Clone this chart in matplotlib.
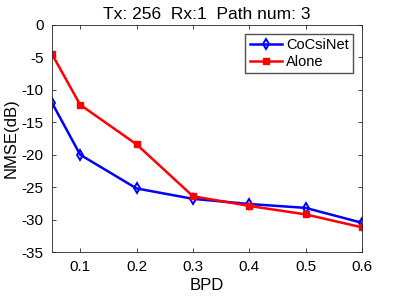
import matplotlib
matplotlib.use("Agg")
import matplotlib.pyplot as plt

bpd = [0.05, 0.1, 0.2, 0.3, 0.4, 0.5, 0.6]
cocsinet = [-12.0, -20.0, -25.2, -26.8, -27.6, -28.2, -30.5]
alone = [-4.5, -12.3, -18.4, -26.4, -27.9, -29.2, -31.2]
xticks = [0.1, 0.2, 0.3, 0.4, 0.5, 0.6]
yticks = [0, -5, -10, -15, -20, -25, -30, -35]

plt.rcParams['font.family'] = ['Liberation Sans', 'DejaVu Sans']
fig = plt.figure(figsize=(3.99, 2.99), dpi=100)
ax = fig.add_axes([52/399, 1-252/299, 310/399, 227/299])
ax.plot(bpd, cocsinet, color='blue', lw=1.8, marker='d', ms=5.5, mfc='none', mew=1.4, label='CoCsiNet')
ax.plot(bpd, alone, color='red', lw=1.8, marker='s', ms=4.5, label='Alone')
ax.set_xlim(0.05, 0.6)
ax.set_ylim(-35, 0)
ax.set_xticks(xticks)
ax.set_xticklabels([str(t) for t in xticks])
ax.set_yticks(yticks)
ax.set_yticklabels([str(t) for t in yticks])
ax.tick_params(direction='in', top=True, right=True, labelsize=11, length=3, width=0.6, color='#262626', pad=6)
for s in ax.spines.values():
    s.set_linewidth(0.6)
    s.set_color('#262626')
ax.set_xlabel('BPD', fontsize=12, labelpad=3)
ax.set_ylabel('NMSE(dB)', fontsize=12, labelpad=2)
ax.set_title('Tx: 256  Rx:1  Path num: 3', fontsize=12.5, pad=4)
ax.legend(loc='upper right', fontsize=10.5, frameon=True, fancybox=False, edgecolor='#262626',
          handlelength=2.2, borderpad=0.3, labelspacing=0.2, handletextpad=0.3, borderaxespad=0.6)
fig.savefig('out.png', dpi=100)
